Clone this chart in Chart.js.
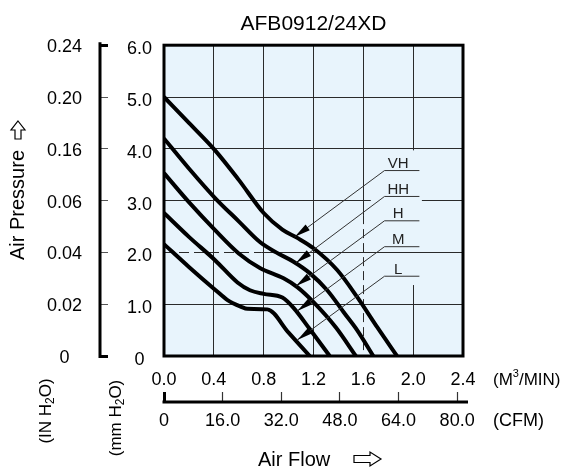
<!DOCTYPE html>
<html><head><meta charset="utf-8">
<script src="https://cdn.jsdelivr.net/npm/chart.js@4/dist/chart.umd.min.js"></script>
<style>html,body{margin:0;padding:0;background:#fff;}canvas{display:block;}</style>
</head><body>
<canvas id="c" width="569" height="476"></canvas>
<script>
// ---- tick labels ----
const flowTicksM3 = ['0.0','0.4','0.8','1.2','1.6','2.0','2.4'];
const flowTicksCFM = ['0','16.0','32.0','48.0','64.0','80.0'];
const pressTicksMM = ['0','1.0','2.0','3.0','4.0','5.0','6.0'];
const pressTicksIN = ['0','0.02','0.04','0.06','0.16','0.20','0.24'];

// ---- curves (x: m3/min, y: mm H2O) ----
const curveNames = ['VH','HH','H','M','L'];
const flowVH = [0, 0.2, 0.41, 0.6, 0.8, 0.95, 1.07, 1.2, 1.39, 1.55, 1.71, 1.87];
const presVH = [5.0, 4.5, 3.97, 3.4, 2.76, 2.44, 2.28, 2.08, 1.66, 1.14, 0.56, 0];
const flowHH = [0, 0.2, 0.41, 0.6, 0.77, 0.9, 1.04, 1.17, 1.31, 1.45, 1.55, 1.68];
const presHH = [4.2, 3.62, 3.05, 2.6, 2.2, 2.0, 1.82, 1.6, 1.27, 0.82, 0.5, 0];
const flowH  = [0, 0.2, 0.41, 0.6, 0.77, 0.96, 1.07, 1.2, 1.38, 1.54];
const presH  = [3.53, 2.97, 2.43, 1.98, 1.70, 1.50, 1.33, 1.04, 0.55, 0];
const flowM  = [0, 0.2, 0.41, 0.59, 0.69, 0.8, 0.95, 1.04, 1.17, 1.33];
const presM  = [2.76, 2.3, 1.85, 1.42, 1.27, 1.2, 1.13, 0.93, 0.52, 0];
const flowL  = [0, 0.2, 0.41, 0.51, 0.62, 0.67, 0.83, 1.0, 1.17];
const presL  = [2.16, 1.72, 1.28, 1.08, 0.95, 0.91, 0.90, 0.45, 0];

// ---- callout anchors (data units) ----
const calloutTipX  = [1.05, 1.06, 1.06, 1.07, 1.07];
const calloutTipY  = [2.30, 1.80, 1.35, 0.87, 0.31];
const calloutLineY = [3.58, 3.08, 2.61, 2.11, 1.54];
const calloutStartX = 1.77, calloutEndX = 2.05, calloutTextX = 1.88;

const flows = [flowVH, flowHH, flowH, flowM, flowL];
const press = [presVH, presHH, presH, presM, presL];

const BG = 'rgb(232,244,252)';
const GRID = '#2a2a2a';
const FONT = "'Liberation Sans', Arial, sans-serif";
Chart.defaults.font.family = FONT;
Chart.defaults.color = '#000';

function richText(ctx, x, y, parts, align) {
  let total = 0;
  parts.forEach(p => { ctx.font = p.size + 'px ' + FONT; p.w = ctx.measureText(p.t).width; total += p.w; });
  let cx = align === 'center' ? x - total / 2 : x;
  ctx.textAlign = 'left'; ctx.textBaseline = 'middle';
  parts.forEach(p => { ctx.font = p.size + 'px ' + FONT; ctx.fillText(p.t, cx, y + (p.dy || 0)); cx += p.w; });
}

const decor = {
  id: 'decor',
  beforeDraw(chart) {
    const {ctx, chartArea: a} = chart;
    ctx.save();
    ctx.fillStyle = BG;
    ctx.fillRect(a.left, a.top, a.right - a.left, a.bottom - a.top);
    ctx.restore();
  },
  beforeDatasetsDraw(chart) {
    const {ctx, chartArea: a, scales: {x, y}} = chart;
    ctx.save();
    ctx.fillStyle = BG;
    const mx1 = x.getPixelForValue(1.66), mx2 = x.getPixelForValue(2.07);
    const my1 = y.getPixelForValue(3.97), my2 = y.getPixelForValue(1.37);
    ctx.fillRect(mx1, my1, mx2 - mx1, my2 - my1);
    ctx.strokeStyle = GRID; ctx.lineWidth = 1;
    const vx = Math.round(x.getPixelForValue(1.6)) + 0.5;
    const vy = y.getPixelForValue(2.72);
    ctx.beginPath(); ctx.moveTo(vx, a.top); ctx.lineTo(vx, vy); ctx.stroke();
    ctx.setLineDash([9, 5]);
    ctx.beginPath(); ctx.moveTo(vx, vy); ctx.lineTo(vx, a.bottom); ctx.stroke();
    const hy = Math.round(y.getPixelForValue(2)) + 0.5;
    const hx = x.getPixelForValue(0.78);
    ctx.setLineDash([10, 5]);
    ctx.beginPath(); ctx.moveTo(a.left, hy); ctx.lineTo(hx, hy); ctx.stroke();
    ctx.setLineDash([]);
    ctx.beginPath(); ctx.moveTo(hx, hy); ctx.lineTo(a.right, hy); ctx.stroke();
    ctx.restore();
  },
  afterDatasetsDraw(chart) {
    const {ctx, chartArea: a, scales: {x, y, yIN, xCFM}} = chart;
    ctx.save();
    curveNames.forEach((n, i) => {
      const ly = y.getPixelForValue(calloutLineY[i]);
      const sx = x.getPixelForValue(calloutStartX), ex = x.getPixelForValue(calloutEndX);
      const tx = x.getPixelForValue(calloutTipX[i]), ty = y.getPixelForValue(calloutTipY[i]);
      ctx.strokeStyle = '#333'; ctx.lineWidth = 1;
      ctx.beginPath(); ctx.moveTo(ex, ly); ctx.lineTo(sx, ly); ctx.lineTo(tx, ty); ctx.stroke();
      const ang = Math.atan2(ly - ty, sx - tx);
      const L = 16, W = 3.5;
      const bx = tx + Math.cos(ang) * L, by = ty + Math.sin(ang) * L;
      ctx.fillStyle = '#000';
      ctx.beginPath();
      ctx.moveTo(tx, ty);
      ctx.lineTo(bx - Math.sin(ang) * W, by + Math.cos(ang) * W);
      ctx.lineTo(bx + Math.sin(ang) * W, by - Math.cos(ang) * W);
      ctx.closePath(); ctx.fill();
      ctx.fillStyle = '#222';
      ctx.font = '15px ' + FONT; ctx.textAlign = 'center'; ctx.textBaseline = 'alphabetic';
      ctx.fillText(n, x.getPixelForValue(calloutTextX), ly - 2.5);
    });
    ctx.strokeStyle = '#000'; ctx.lineWidth = 3;
    ctx.strokeRect(a.left, a.top, a.right - a.left, a.bottom - a.top);
    const bxx = yIN.right - 8;
    ctx.beginPath(); ctx.moveTo(bxx, yIN.getPixelForValue(6) - 3); ctx.lineTo(bxx, yIN.getPixelForValue(0) + 2); ctx.stroke();
    const cy = xCFM.top + 10;
    ctx.beginPath(); ctx.moveTo(xCFM.getPixelForValue(0) - 1.5, cy); ctx.lineTo(a.right + 5, cy); ctx.stroke();
    ctx.fillStyle = '#000';
    richText(ctx, 493, 380, [{t:'(M', size:17}, {t:'3', size:11, dy:-6}, {t:'/MIN)', size:17}], 'left');
    richText(ctx, 493, 421, [{t:'(CFM)', size:18}], 'left');
    const rot = (cx, cyy, parts) => {
      ctx.save(); ctx.translate(cx, cyy); ctx.rotate(-Math.PI / 2);
      richText(ctx, 0, 0, parts, 'center'); ctx.restore();
    };
    rot(46, 411, [{t:'(IN H', size:17}, {t:'2', size:12, dy:5}, {t:'O)', size:17}]);
    rot(116, 418, [{t:'(mm H', size:17}, {t:'2', size:12, dy:5}, {t:'O)', size:17}]);
    rot(18, 205, [{t:'Air Pressure', size:20}]);
    richText(ctx, 258, 460, [{t:'Air Flow', size:20}], 'left');
    ctx.lineWidth = 1.2; ctx.strokeStyle = '#000'; ctx.fillStyle = '#fff';
    ctx.beginPath();
    ctx.moveTo(18, 121); ctx.lineTo(25, 130); ctx.lineTo(21, 130); ctx.lineTo(21, 139);
    ctx.lineTo(15, 139); ctx.lineTo(15, 130); ctx.lineTo(11, 130); ctx.closePath();
    ctx.fill(); ctx.stroke();
    ctx.beginPath();
    ctx.moveTo(381, 459); ctx.lineTo(370, 452); ctx.lineTo(370, 455.5); ctx.lineTo(354, 455.5);
    ctx.lineTo(354, 462.5); ctx.lineTo(370, 462.5); ctx.lineTo(370, 466); ctx.closePath();
    ctx.fill(); ctx.stroke();
    ctx.restore();
  }
};

const datasets = curveNames.map((n, i) => ({
  label: n,
  data: flows[i].map((fx, j) => ({x: fx, y: press[i][j]})),
  borderColor: '#000', borderWidth: 4, pointRadius: 0, fill: false,
  cubicInterpolationMode: 'monotone', borderCapStyle: 'butt', borderJoinStyle: 'round',
  xAxisID: 'x', yAxisID: 'y'
}));

new Chart(document.getElementById('c'), {
  type: 'line',
  data: {datasets},
  plugins: [decor],
  options: {
    responsive: false, animation: false, devicePixelRatio: 1,
    layout: {padding: {left: 0, right: 106, top: 0, bottom: 34}},
    plugins: {
      legend: {display: false}, tooltip: {enabled: false},
      title: {display: true, text: 'AFB0912/24XD', color: '#000', fullSize: false,
        font: {family: FONT, size: 21, weight: 'normal'}, padding: {top: 12, bottom: 8}}
    },
    scales: {
      x: {
        type: 'linear', position: 'bottom', min: 0, max: 2.4,
        afterBuildTicks: ax => { ax.ticks = flowTicksM3.map(s => ({value: parseFloat(s)})); },
        ticks: {callback: (v, i) => flowTicksM3[i], font: {size: 18}, padding: 13, maxRotation: 0, autoSkip: false, color: '#000'},
        grid: {color: c => (c.tick && Math.abs(c.tick.value - 1.6) < 1e-6) ? 'rgba(0,0,0,0)' : GRID, lineWidth: 1, drawTicks: false},
        border: {display: false},
        afterFit: s => { s.height = 36; }
      },
      xCFM: {
        type: 'linear', position: 'bottom', min: 0, max: 81.6,
        afterBuildTicks: ax => { ax.ticks = flowTicksCFM.map(s => ({value: parseFloat(s)})); },
        ticks: {callback: (v, i) => flowTicksCFM[i], font: {size: 18}, padding: 8, maxRotation: 0, autoSkip: false, color: '#000'},
        grid: {drawOnChartArea: false, drawTicks: true, tickLength: 10,
          tickColor: c => c.index === 0 ? '#000' : '#333', tickWidth: c => c.index === 0 ? 3 : 1.2},
        border: {display: false},
        afterFit: s => { s.height = 50; }
      },
      y: {
        type: 'linear', position: 'left', weight: 0, min: 0, max: 6,
        afterBuildTicks: ax => { ax.ticks = pressTicksMM.map(s => ({value: parseFloat(s)})); },
        ticks: {callback: (v, i) => pressTicksMM[i], font: {size: 18}, padding: 12, labelOffset: 4, crossAlign: 'center', color: '#000'},
        grid: {color: c => (c.tick && Math.abs(c.tick.value - 2) < 1e-6) ? 'rgba(0,0,0,0)' : GRID, lineWidth: 1, drawTicks: false},
        border: {display: false},
        afterFit: s => { s.width = 56; }
      },
      yIN: {
        type: 'linear', position: 'left', weight: 1, min: 0, max: 6,
        afterBuildTicks: ax => { ax.ticks = pressTicksIN.map((s, i) => ({value: i})); },
        ticks: {callback: (v, i) => pressTicksIN[i], font: {size: 18}, padding: 18, labelOffset: 2, crossAlign: 'center', color: '#000'},
        grid: {drawOnChartArea: false, drawTicks: true, tickLength: 8,
          tickColor: c => (c.index === 0 || c.index === 6) ? '#000' : '#555',
          tickWidth: c => (c.index === 0 || c.index === 6) ? 3 : 1},
        border: {display: false},
        afterFit: s => { s.width = 108; }
      }
    }
  }
});
</script>
</body></html>
